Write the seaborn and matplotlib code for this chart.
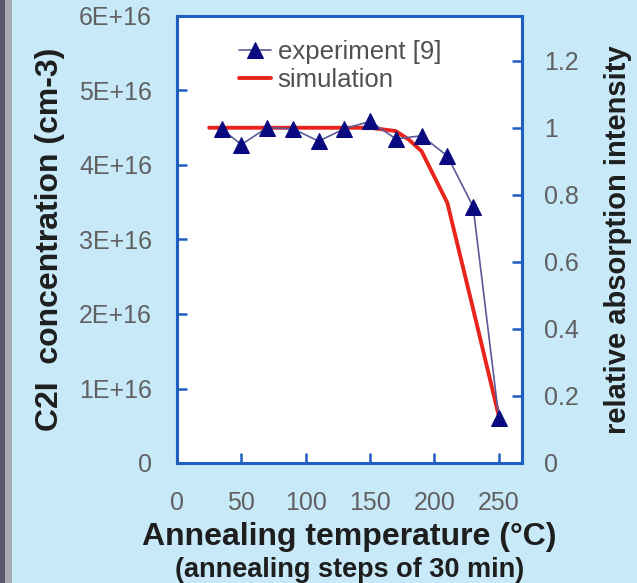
import matplotlib
matplotlib.use("Agg")
import matplotlib.pyplot as plt
from matplotlib.patches import Rectangle
import seaborn as sns
import pandas as pd

# ---- data ----
exp_temp = [35, 50, 70, 90, 110, 130, 150, 170, 190, 210, 230, 250]
exp_rel = [0.995, 0.95, 1.0, 0.997, 0.96, 0.997, 1.019, 0.967, 0.976, 0.916, 0.765, 0.135]
sim_temp = [25, 50, 70, 90, 110, 130, 150, 170, 180, 190, 210, 230, 250]
sim_rel = [1.0, 1.0, 1.0, 1.0, 1.0, 1.0, 1.0, 0.99, 0.965, 0.93, 0.776, 0.46, 0.14]
x_ticks = [0, 50, 100, 150, 200, 250]
left_ticks = [0, 1e16, 2e16, 3e16, 4e16, 5e16, 6e16]
left_labels = ["0", "1E+16", "2E+16", "3E+16", "4E+16", "5E+16", "6E+16"]
right_ticks = [0, 0.2, 0.4, 0.6, 0.8, 1.0, 1.2]
right_labels = ["0", "0.2", "0.4", "0.6", "0.8", "1", "1.2"]

df_exp = pd.DataFrame({"temp": exp_temp, "rel": exp_rel})
df_sim = pd.DataFrame({"temp": sim_temp, "rel": sim_rel})

sns.set_theme(style="white")
plt.rcParams["font.family"] = ["Liberation Sans", "DejaVu Sans"]

BG = "#c8e9f8"
SPINE = "#1f5fc0"
TICKC = "#606060"

W, H = 637, 583
fig = plt.figure(figsize=(W / 100, H / 100), dpi=100)
fig.patch.set_facecolor(BG)
# left decorative strip
fig.patches.append(Rectangle((0, 0), 5 / W, 1, transform=fig.transFigure,
                             facecolor="#5a5a6c", edgecolor="none", zorder=0))
fig.patches.append(Rectangle((5 / W, 0), 7 / W, 1, transform=fig.transFigure,
                             facecolor="#a9a9b2", edgecolor="none", zorder=0))

L, R, T, B = 177, 522, 16, 463
ax = fig.add_axes([L / W, 1 - B / H, (R - L) / W, (B - T) / H])
ax.set_facecolor("white")
ax2 = ax.twinx()

sns.lineplot(data=df_exp, x="temp", y="rel", ax=ax2, color="#5a5a98", lw=1.2,
             marker="^", markersize=11, markerfacecolor="#0a0a80",
             markeredgecolor="#0a0a80", label="experiment [9]")
sns.lineplot(data=df_sim, x="temp", y="rel", ax=ax2, color="#e8241c", lw=2.8,
             label="simulation")
ax2.lines[0].set_zorder(3)

ax.set_xlim(0, 268)
ax.set_ylim(0, 6e16)
ax2.set_ylim(0, 6 / 4.5)

ax.set_xticks(x_ticks)
ax.set_xticklabels([str(t) for t in x_ticks])
ax.set_yticks(left_ticks)
ax.set_yticklabels(left_labels)
ax2.set_yticks(right_ticks)
ax2.set_yticklabels(right_labels)

for a in (ax, ax2):
    for s in a.spines.values():
        s.set_color(SPINE)
        s.set_linewidth(2.2)
        s.set_visible(True)

ax.tick_params(axis="both", direction="in", length=7, width=1.8, color=SPINE,
               labelsize=18, labelcolor=TICKC)
ax.tick_params(axis="y", pad=18, left=True, right=False)
ax.tick_params(axis="x", pad=20, bottom=True)
ax2.tick_params(axis="y", direction="in", length=7, width=1.8, color=SPINE,
                labelsize=18, labelcolor=TICKC, pad=16, right=True)

ax.set_xlabel("Annealing temperature (°C)", fontsize=23, fontweight="bold",
              color="#1e1e1e", labelpad=5)
ax.text(0.5, -0.24, "(annealing steps of 30 min)", transform=ax.transAxes,
        ha="center", va="center", fontsize=19.5, fontweight="bold", color="#1e1e1e")
ax.set_ylabel("C2I  concentration (cm-3)", fontsize=23, fontweight="bold",
              color="#1e1e1e", labelpad=10)
ax2.set_ylabel("relative absorption intensity", fontsize=21, fontweight="bold",
               color="#1e1e1e", labelpad=18)

leg = ax2.legend(loc="upper left", bbox_to_anchor=(0.15, 0.97), frameon=False,
                 fontsize=18.5, handlelength=1.25, handletextpad=0.25,
                 labelspacing=0.15, borderaxespad=0)
for t in leg.get_texts():
    t.set_color("#505050")

fig.savefig("out.png", dpi=100, facecolor=BG)
